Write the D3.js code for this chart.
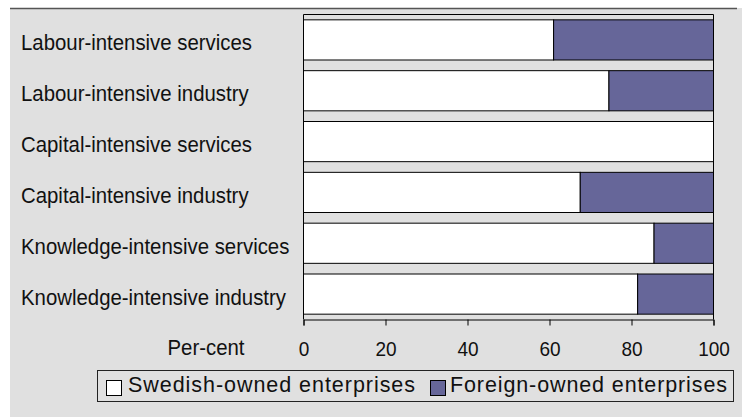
<!DOCTYPE html>
<html>
<head>
<meta charset="utf-8">
<script src="https://cdn.jsdelivr.net/npm/d3@7"></script>
<style>
  html, body { margin: 0; padding: 0; background: #ffffff; }
  svg { display: block; font-family: "Liberation Sans", Arial, sans-serif; }
</style>
</head>
<body>
<svg id="chart" width="742" height="417"></svg>
<script>
// Share of enterprises by ownership, per sector (per cent)
const categories = [
  "Labour-intensive services",
  "Labour-intensive industry",
  "Capital-intensive services",
  "Capital-intensive industry",
  "Knowledge-intensive services",
  "Knowledge-intensive industry"
];
const swedishOwned = [61, 74.5, 100, 67.5, 85.5, 81.5];
const foreignOwned = [39, 25.5, 0, 32.5, 14.5, 18.5];
const xTicks = [0, 20, 40, 60, 80, 100];
const seriesNames = ["Swedish-owned enterprises", "Foreign-owned enterprises"];
const seriesColors = ["#ffffff", "#666699"];

const svg = d3.select("#chart");
const bg = "#e0e0e0";

// panel background and top rule
svg.append("rect").attr("x", 10).attr("y", 8).attr("width", 732).attr("height", 409).attr("fill", bg);
svg.append("line").attr("x1", 10).attr("x2", 737).attr("y1", 8.5).attr("y2", 8.5)
  .attr("stroke", "#555").attr("stroke-width", 1.5);

const x = d3.scaleLinear().domain([0, 100]).range([303.5, 713.5]);
const y = d3.scaleBand().domain(categories).range([14.5, 319.5])
  .paddingInner(0.21).paddingOuter(0.105);

const rows = categories.map((c, i) => ({ cat: c, swedish: swedishOwned[i], foreign: foreignOwned[i] }));
const stack = d3.stack().keys(["swedish", "foreign"]);
const layers = stack(rows);

// stacked bars
svg.append("g").selectAll("g").data(layers).join("g")
  .attr("fill", (d, i) => seriesColors[i])
  .selectAll("rect").data(d => d.filter(p => p[1] - p[0] > 0)).join("rect")
  .attr("x", d => x(d[0]))
  .attr("y", d => y(d.data.cat))
  .attr("width", d => x(d[1]) - x(d[0]))
  .attr("height", y.bandwidth())
  .attr("stroke", "#000").attr("stroke-width", 1);

// plot frame
const [x0, x1] = x.range();
const [y0, y1] = y.range();
svg.append("path")
  .attr("d", `M${x0},${y1}V${y0}H${x1}V${y1}`)
  .attr("fill", "none").attr("stroke", "#000").attr("stroke-width", 1);

// bottom axis
const xAxis = d3.axisBottom(x).tickValues(xTicks).tickSize(6).tickPadding(0).tickFormat(d3.format("d"));
const gx = svg.append("g").attr("transform", `translate(0,${y1})`).call(xAxis);
gx.select(".domain").attr("stroke", "#000");
gx.selectAll(".tick line").attr("stroke", "#000");
gx.selectAll(".tick text")
  .attr("y", 36.5).attr("dy", null)
  .attr("font-size", 20).attr("fill", "#111")
  .attr("font-family", "'Liberation Sans', Arial, sans-serif");

// squeeze text horizontally to a given factor
function squeeze(sel, f) {
  sel.each(function () {
    const w = this.getComputedTextLength();
    d3.select(this).attr("textLength", w * f).attr("lengthAdjust", "spacingAndGlyphs");
  });
}
squeeze(gx.selectAll(".tick text"), 0.95);

// category labels
const labels = svg.append("g").selectAll("text").data(categories).join("text")
  .attr("x", 21)
  .attr("y", d => y(d) + y.bandwidth() / 2 + 10.5)
  .attr("font-size", 22).attr("fill", "#111")
  .text(d => d);
squeeze(labels, 0.926);

const unit = svg.append("text")
  .attr("x", 244.5).attr("y", 354.5)
  .attr("text-anchor", "end")
  .attr("font-size", 22).attr("fill", "#111")
  .text("Per-cent");
squeeze(unit, 0.926);

// legend
const legend = svg.append("g");
legend.append("rect").attr("x", 97.5).attr("y", 370.5).attr("width", 636).attr("height", 31)
  .attr("fill", bg).attr("stroke", "#222").attr("stroke-width", 1);
const legendItems = [
  { name: seriesNames[0], color: seriesColors[0], sx: 106.5, tx: 128, len: 287 },
  { name: seriesNames[1], color: seriesColors[1], sx: 430.5, tx: 450, len: 277 }
];
legendItems.forEach(it => {
  legend.append("rect").attr("x", it.sx).attr("y", 380.5).attr("width", 15).attr("height", 15)
    .attr("fill", it.color).attr("stroke", "#000").attr("stroke-width", 1);
  legend.append("text").attr("x", it.tx).attr("y", 392)
    .attr("font-size", 21.5).attr("fill", "#111")
    .attr("textLength", it.len).attr("lengthAdjust", "spacing")
    .text(it.name);
});
</script>
</body>
</html>
